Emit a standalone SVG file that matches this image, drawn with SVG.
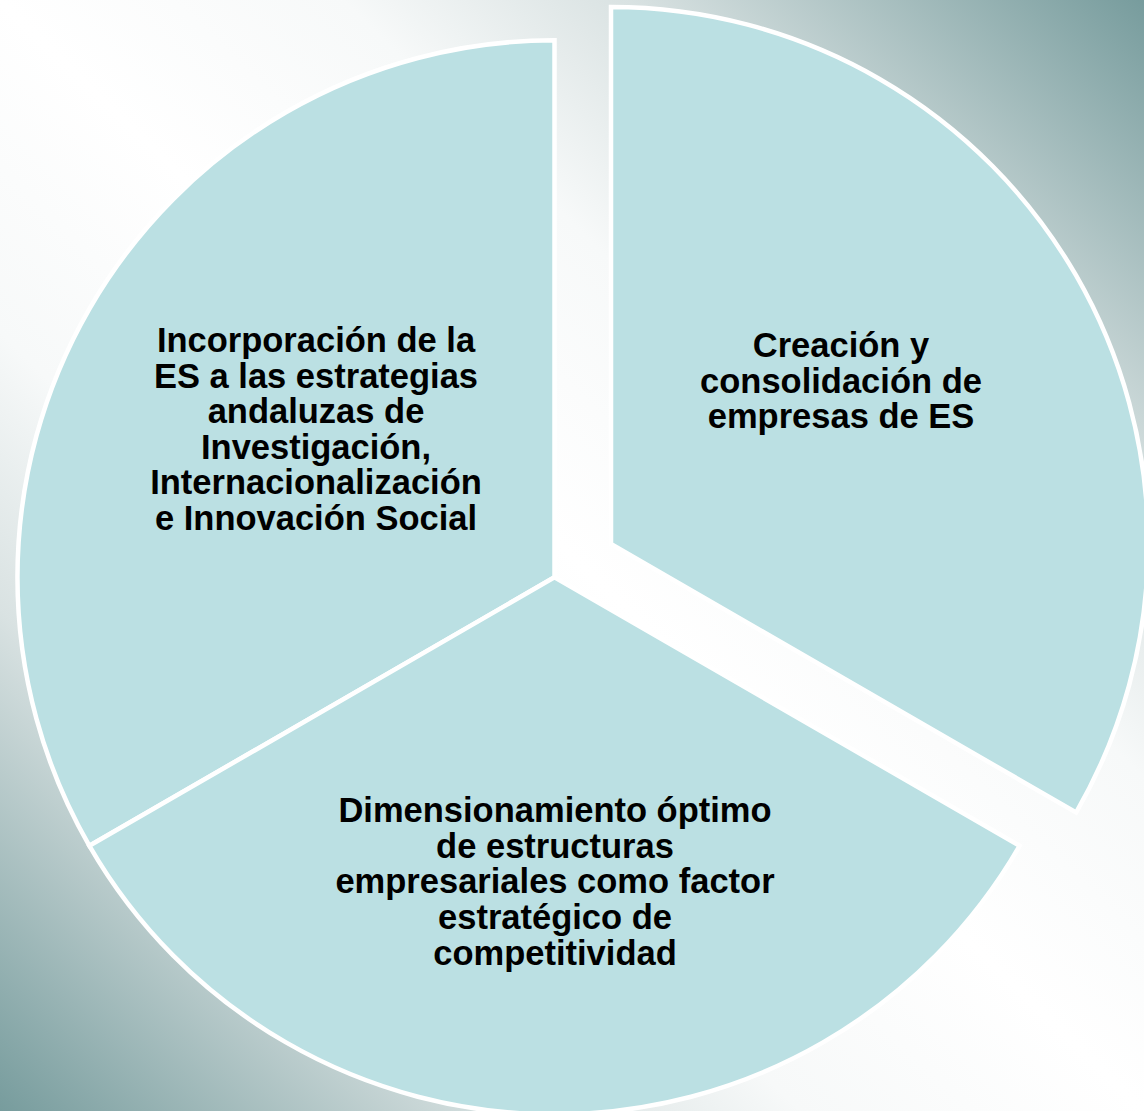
<svg xmlns="http://www.w3.org/2000/svg" width="1144" height="1111" viewBox="0 0 1144 1111">
  <defs>
    <linearGradient id="bg" gradientUnits="userSpaceOnUse" x1="572" y1="555.5" x2="1127" y2="-16" spreadMethod="reflect">
      <stop offset="0" stop-color="#ffffff"/>
      <stop offset="0.3" stop-color="#f7f9f9"/>
      <stop offset="0.55" stop-color="#d9e2e2"/>
      <stop offset="1" stop-color="#779c9d"/>
    </linearGradient>
    <style>
      .sector { fill: #bbe0e3; stroke: #ffffff; stroke-width: 4.5; stroke-linejoin: miter; }
      .label { font-family: "Liberation Sans", Arial, sans-serif; font-weight: bold; font-size: 34.5px; fill: #000000; text-anchor: middle; }
    </style>
  </defs>
  <rect x="0" y="0" width="1144" height="1111" fill="url(#bg)"/>
  <g id="connectors"></g>
  <g id="node-investigacion">
    <path class="sector" d="M554.5,577.3 L554.5,40.3 A537,537 0 0 0 89.4,845.8 Z"/>
    <text class="label"><tspan x="316" y="352">Incorporación de la</tspan><tspan x="316" y="387.6">ES a las estrategias</tspan><tspan x="316" y="423.2">andaluzas de</tspan><tspan x="316" y="458.8">Investigación,</tspan><tspan x="316" y="494.4">Internacionalización</tspan><tspan x="316" y="530">e Innovación Social</tspan></text>
  </g>
  <g id="node-dimensionamiento">
    <path class="sector" d="M554.5,577.3 L89.4,845.8 A537,537 0 0 0 1019.6,845.8 Z"/>
    <text class="label"><tspan x="555" y="822">Dimensionamiento óptimo</tspan><tspan x="555" y="857.7">de estructuras</tspan><tspan x="555" y="893.4">empresariales como factor</tspan><tspan x="555" y="929">estratégico de</tspan><tspan x="555" y="965">competitividad</tspan></text>
  </g>
  <g id="node-creacion">
    <path class="sector" d="M611,544 L611,7 A537,537 0 0 1 1076.1,812.5 Z"/>
    <text class="label"><tspan x="841" y="357">Creación y</tspan><tspan x="841" y="392.7">consolidación de</tspan><tspan x="841" y="428">empresas de ES</tspan></text>
  </g>
</svg>
